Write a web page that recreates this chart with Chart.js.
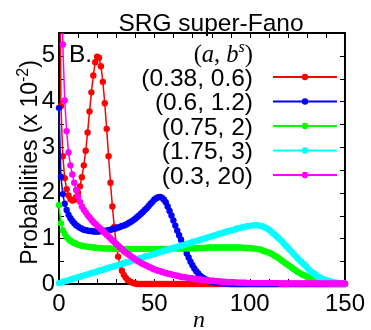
<!DOCTYPE html>
<html>
<head>
<meta charset="utf-8">
<script src="https://cdn.jsdelivr.net/npm/chart.js@4"></script>
<style>
  html, body { margin: 0; padding: 0; background: #fff; }
  #chart { display: block; }
</style>
</head>
<body>
<canvas id="chart" width="371" height="330"></canvas>
<script>
// legend labels (a, b^s) and colours, in drawing order of the legend
const seriesLabels = ["(0.38, 0.6)", "(0.6, 1.2)", "(0.75, 2)", "(1.75, 3)", "(0.3, 20)"];
const seriesColors = ["#ff0000", "#0000ff", "#00ff00", "#00ffff", "#ff00ff"];

const xTickLabels = [0, 50, 100, 150];
const yTickLabels = [0, 1, 2, 3, 4, 5];
const xTickMarks = [10, 20, 30, 40, 50, 60, 70, 80, 90, 100, 110, 120, 130, 140];
const yTickMarks = [0.5, 1, 1.5, 2, 2.5, 3, 3.5, 4, 4.5, 5];

// probabilities (x 10^-2) for n = 0 .. 150
const red = [
  9.5, 3.9, 2.8, 2.32, 2.08, 1.94, 1.86, 1.83, 1.84, 1.9,
  2.0, 2.14, 2.34, 2.6, 2.92, 3.32, 3.78, 4.2, 4.57, 4.86,
  4.98, 4.96, 4.77, 4.43, 3.96, 3.4, 2.8, 2.22, 1.7, 1.25,
  0.88, 0.6, 0.41, 0.29, 0.2, 0.14, 0.09, 0.06, 0.04, 0.02,
  0.01, 0, 0, 0, 0, 0, 0, 0, 0, 0,
  0, 0, 0, 0, 0, 0, 0, 0, 0, 0,
  0, 0, 0, 0, 0, 0, 0, 0, 0, 0,
  0, 0, 0, 0, 0, 0, 0, 0, 0, 0,
  0, 0, 0, 0, 0, 0, 0, 0, 0, 0,
  0, 0, 0, 0, 0, 0, 0, 0, 0, 0,
  0, 0, 0, 0, 0, 0, 0, 0, 0, 0,
  0, 0, 0, 0, 0, 0, 0, 0, 0, 0,
  0, 0, 0, 0, 0, 0, 0, 0, 0, 0,
  0, 0, 0, 0, 0, 0, 0, 0, 0, 0,
  0, 0, 0, 0, 0, 0, 0, 0, 0, 0,
  0
];

const blue = [
  3.86, 2.35, 1.97, 1.76, 1.62, 1.52, 1.44, 1.38, 1.33, 1.29,
  1.26, 1.23, 1.21, 1.19, 1.18, 1.17, 1.16, 1.16, 1.15, 1.15,
  1.15, 1.15, 1.16, 1.16, 1.17, 1.17, 1.18, 1.19, 1.2, 1.21,
  1.22, 1.24, 1.25, 1.27, 1.28, 1.3, 1.32, 1.35, 1.37, 1.4,
  1.43, 1.47, 1.5, 1.54, 1.58, 1.62, 1.66, 1.71, 1.76, 1.8,
  1.85, 1.88, 1.9, 1.91, 1.89, 1.85, 1.79, 1.7, 1.6, 1.5,
  1.39, 1.28, 1.17, 1.07, 0.97, 0.87, 0.77, 0.67, 0.58, 0.49,
  0.41, 0.34, 0.28, 0.23, 0.18, 0.15, 0.12, 0.1, 0.08, 0.06,
  0.05, 0.04, 0.03, 0.025, 0.02, 0.015, 0.01, 0.01, 0.005, 0.005,
  0, 0, 0, 0, 0, 0, 0, 0, 0, 0,
  0, 0, 0, 0, 0, 0, 0, 0, 0, 0,
  0, 0, 0, 0, 0, 0, 0, 0, 0, 0,
  0, 0, 0, 0, 0, 0, 0, 0, 0, 0,
  0, 0, 0, 0, 0, 0, 0, 0, 0, 0,
  0, 0, 0, 0, 0, 0, 0, 0, 0, 0,
  0
];

const green = [
  1.73, 1.33, 1.18, 1.1, 1.03, 0.98, 0.95, 0.92, 0.9, 0.88,
  0.86, 0.85, 0.84, 0.83, 0.82, 0.82, 0.81, 0.81, 0.8, 0.8,
  0.79, 0.79, 0.79, 0.78, 0.78, 0.78, 0.78, 0.78, 0.77, 0.77,
  0.77, 0.77, 0.77, 0.77, 0.77, 0.77, 0.77, 0.77, 0.77, 0.77,
  0.77, 0.77, 0.77, 0.77, 0.77, 0.77, 0.77, 0.77, 0.77, 0.77,
  0.77, 0.77, 0.77, 0.77, 0.77, 0.77, 0.77, 0.77, 0.77, 0.77,
  0.78, 0.78, 0.78, 0.78, 0.78, 0.78, 0.78, 0.78, 0.78, 0.78,
  0.78, 0.78, 0.78, 0.79, 0.79, 0.79, 0.79, 0.79, 0.8, 0.8,
  0.8, 0.8, 0.8, 0.8, 0.8, 0.8, 0.8, 0.8, 0.8, 0.8,
  0.8, 0.8, 0.8, 0.8, 0.8, 0.8, 0.8, 0.79, 0.79, 0.79,
  0.79, 0.78, 0.78, 0.77, 0.77, 0.76, 0.75, 0.73, 0.72, 0.7,
  0.69, 0.67, 0.65, 0.62, 0.6, 0.57, 0.54, 0.51, 0.48, 0.45,
  0.42, 0.39, 0.36, 0.33, 0.3, 0.27, 0.25, 0.22, 0.2, 0.18,
  0.16, 0.14, 0.12, 0.1, 0.09, 0.08, 0.06, 0.05, 0.04, 0.03,
  0.03, 0.02, 0.02, 0.01, 0.01, 0, 0, 0, 0, 0,
  0
];

const cyan = [
  0.02, 0.03, 0.05, 0.06, 0.07, 0.08, 0.1, 0.11, 0.12, 0.14,
  0.15, 0.16, 0.17, 0.19, 0.2, 0.21, 0.22, 0.24, 0.25, 0.26,
  0.28, 0.29, 0.3, 0.31, 0.33, 0.34, 0.35, 0.37, 0.38, 0.39,
  0.4, 0.42, 0.43, 0.44, 0.46, 0.47, 0.48, 0.49, 0.51, 0.52,
  0.53, 0.54, 0.56, 0.57, 0.58, 0.6, 0.61, 0.62, 0.63, 0.65,
  0.66, 0.67, 0.69, 0.7, 0.71, 0.72, 0.74, 0.75, 0.76, 0.78,
  0.79, 0.8, 0.81, 0.83, 0.84, 0.85, 0.86, 0.88, 0.89, 0.9,
  0.92, 0.93, 0.94, 0.95, 0.97, 0.98, 0.99, 1.0, 1.02, 1.03,
  1.05, 1.06, 1.07, 1.08, 1.1, 1.11, 1.12, 1.14, 1.15, 1.16,
  1.17, 1.18, 1.19, 1.21, 1.22, 1.23, 1.24, 1.25, 1.26, 1.27,
  1.27, 1.28, 1.29, 1.29, 1.29, 1.28, 1.27, 1.26, 1.24, 1.22,
  1.19, 1.16, 1.12, 1.09, 1.05, 1.01, 0.97, 0.93, 0.88, 0.84,
  0.8, 0.75, 0.71, 0.66, 0.62, 0.57, 0.53, 0.49, 0.45, 0.41,
  0.37, 0.32, 0.28, 0.25, 0.22, 0.19, 0.16, 0.14, 0.12, 0.1,
  0.08, 0.07, 0.06, 0.05, 0.04, 0.03, 0.03, 0.02, 0.02, 0.01,
  0.01
];

const magenta = [
  20, 10, 5.25, 4.02, 3.35, 2.88, 2.6, 2.4, 2.22, 2.06,
  1.92, 1.8, 1.7, 1.63, 1.57, 1.51, 1.46, 1.41, 1.36, 1.32,
  1.28, 1.24, 1.2, 1.16, 1.12, 1.08, 1.04, 1.0, 0.96, 0.92,
  0.88, 0.84, 0.8, 0.76, 0.72, 0.69, 0.66, 0.63, 0.6, 0.57,
  0.54, 0.51, 0.49, 0.46, 0.44, 0.42, 0.4, 0.38, 0.36, 0.34,
  0.32, 0.31, 0.29, 0.28, 0.27, 0.25, 0.24, 0.23, 0.22, 0.21,
  0.2, 0.19, 0.18, 0.17, 0.16, 0.15, 0.15, 0.14, 0.13, 0.13,
  0.12, 0.11, 0.11, 0.1, 0.1, 0.09, 0.09, 0.08, 0.08, 0.07,
  0.07, 0.07, 0.06, 0.06, 0.06, 0.05, 0.05, 0.05, 0.04, 0.04,
  0.04, 0.04, 0.04, 0.03, 0.03, 0.03, 0.03, 0.03, 0.03, 0.02,
  0.02, 0.02, 0.02, 0.02, 0.02, 0.02, 0.02, 0.02, 0.02, 0.02,
  0.02, 0.02, 0.02, 0.02, 0.02, 0.02, 0.01, 0.01, 0.01, 0.01,
  0.01, 0.01, 0.01, 0.01, 0.01, 0.01, 0.01, 0.01, 0.01, 0.01,
  0.01, 0.01, 0.01, 0.01, 0.01, 0.01, 0.01, 0.01, 0.01, 0.01,
  0.01, 0.01, 0.01, 0.01, 0.01, 0.01, 0.01, 0.01, 0.01, 0.01,
  0.01
];

const seriesValues = [red, blue, green, cyan, magenta];

const sans = '"Liberation Sans", Arial, Helvetica, sans-serif';
const serif = '"Liberation Serif", "Times New Roman", serif';
Chart.defaults.font.family = sans;
Chart.defaults.color = "#000";

// draws text pieces one after another starting at x
function drawPieces(ctx, pieces, x, y) {
  pieces.forEach(p => {
    ctx.font = p.font;
    ctx.fillText(p.text, x, y + (p.dy || 0));
    x += ctx.measureText(p.text).width;
  });
}
function piecesWidth(ctx, pieces) {
  return pieces.reduce((w, p) => { ctx.font = p.font; return w + ctx.measureText(p.text).width; }, 0);
}

const decorPlugin = {
  id: "decor",
  beforeDatasetsDraw(chart) {
    const { ctx, chartArea: a, scales: { x, y } } = chart;
    ctx.save();
    ctx.strokeStyle = "#000";
    ctx.lineWidth = 1;
    ctx.beginPath();
    xTickMarks.forEach(v => {
      const px = Math.round(x.getPixelForValue(v)) + 0.5;
      ctx.moveTo(px, a.bottom); ctx.lineTo(px, a.bottom - 5);
      ctx.moveTo(px, a.top); ctx.lineTo(px, a.top + 5);
    });
    yTickMarks.forEach(v => {
      const py = Math.round(y.getPixelForValue(v)) + 0.5;
      ctx.moveTo(a.left, py); ctx.lineTo(a.left + 5, py);
      ctx.moveTo(a.right, py); ctx.lineTo(a.right - 5, py);
    });
    ctx.stroke();
    ctx.lineWidth = 2;
    ctx.strokeRect(a.left, a.top, a.right - a.left, a.bottom - a.top);
    ctx.restore();
  },
  afterDraw(chart) {
    const ctx = chart.ctx;
    ctx.save();
    ctx.fillStyle = "#000";
    ctx.textBaseline = "alphabetic";

    // title
    ctx.font = "24.5px " + sans;
    ctx.textAlign = "center";
    ctx.fillText("SRG super-Fano", 211, 31);

    // panel letter
    ctx.textAlign = "left";
    ctx.fillText("B.", 69, 62);

    // legend header (a, b^s)
    const head = [
      { text: "(", font: "24.5px " + serif },
      { text: "a", font: "italic 24.5px " + serif },
      { text: ", ", font: "24.5px " + serif },
      { text: "b", font: "italic 24.5px " + serif },
      { text: "s", font: "italic 16px " + serif, dy: -10 },
      { text: ")", font: "24.5px " + serif }
    ];
    drawPieces(ctx, head, 253 - piecesWidth(ctx, head), 62);

    // legend entries
    seriesLabels.forEach((label, i) => {
      const ly = 77 + i * 24.5;
      ctx.font = "24.5px " + sans;
      ctx.textAlign = "right";
      ctx.fillText(label, 253, ly + 8.5);
      ctx.strokeStyle = seriesColors[i];
      ctx.lineWidth = 2;
      ctx.beginPath();
      ctx.moveTo(273, ly); ctx.lineTo(337, ly);
      ctx.stroke();
      ctx.fillStyle = seriesColors[i];
      ctx.beginPath();
      ctx.arc(305, ly, 3.2, 0, Math.PI * 2);
      ctx.fill();
      ctx.fillStyle = "#000";
    });
    ctx.textAlign = "left";

    // y axis title
    const ytitle = [
      { text: "Probabilities (x 10", font: "23px " + sans },
      { text: "-2", font: "16px " + sans, dy: -9 },
      { text: ")", font: "23px " + sans }
    ];
    ctx.translate(37, 162.5);
    ctx.rotate(-Math.PI / 2);
    drawPieces(ctx, ytitle, -piecesWidth(ctx, ytitle) / 2, 0);
    ctx.setTransform(1, 0, 0, 1, 0, 0);

    // x axis title
    ctx.font = "italic 24px " + serif;
    ctx.textAlign = "center";
    ctx.fillText("n", 199, 327);
    ctx.restore();
  }
};

const datasets = seriesValues.map((vals, i) => ({
  label: seriesLabels[i],
  data: vals.map((v, n) => ({ x: n, y: v })),
  borderColor: seriesColors[i],
  backgroundColor: seriesColors[i],
  pointBackgroundColor: seriesColors[i],
  pointBorderWidth: 0,
  pointRadius: 3.2,
  borderWidth: 1.5,
  tension: 0,
  order: seriesValues.length - 1 - i,
  clip: { left: 6, right: 6, top: 0, bottom: 6 }
}));

new Chart(document.getElementById("chart").getContext("2d"), {
  type: "line",
  data: { datasets },
  plugins: [decorPlugin],
  options: {
    responsive: false,
    animation: false,
    layout: { padding: { left: 0, top: 33, right: 19, bottom: 0 } },
    plugins: { legend: { display: false }, title: { display: false }, tooltip: { enabled: false } },
    scales: {
      x: {
        type: "linear",
        min: 0,
        max: 150,
        afterFit: s => { s.height = 46; },
        afterBuildTicks: s => { s.ticks = xTickLabels.map(v => ({ value: v })); },
        ticks: { font: { size: 24 }, color: "#000", padding: 6, maxRotation: 0 },
        grid: { display: false, drawTicks: false },
        border: { display: false }
      },
      y: {
        type: "linear",
        min: 0,
        max: 5.5,
        afterFit: s => { s.width = 59; },
        afterBuildTicks: s => { s.ticks = yTickLabels.map(v => ({ value: v })); },
        ticks: { font: { size: 24 }, color: "#000", padding: 4 },
        grid: { display: false, drawTicks: false },
        border: { display: false }
      }
    }
  }
});
</script>
</body>
</html>
